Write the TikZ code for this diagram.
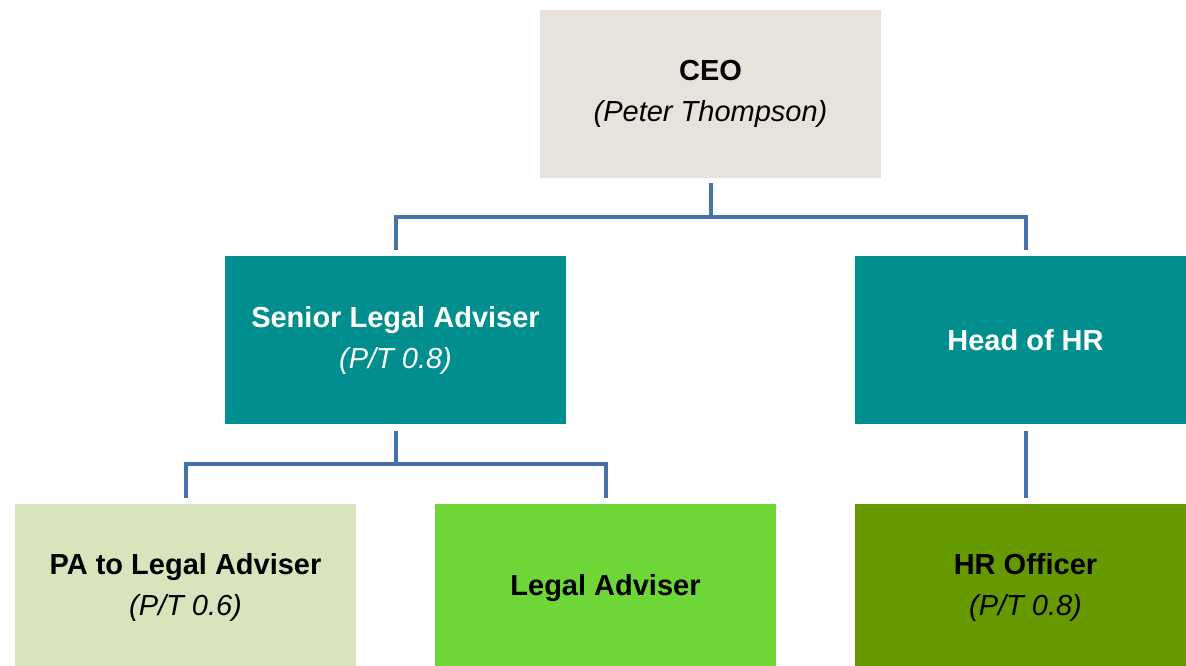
\documentclass[tikz,border=0pt]{standalone}
\usepackage{fontspec}
\setmainfont{Liberation Sans}
\usetikzlibrary{positioning}

\definecolor{ceobg}{HTML}{E7E3DC}
\definecolor{teal}{HTML}{008E8E}
\definecolor{palegreen}{HTML}{D8E4BC}
\definecolor{brightgreen}{HTML}{6FD638}
\definecolor{olive}{HTML}{669900}
\definecolor{linkblue}{HTML}{4672AA}

\tikzset{
	post/.style={minimum width=341pt, minimum height=168pt, inner sep=0pt,
		align=center, font=\fontsize{29}{41}\selectfont},
	link/.style={draw=linkblue, line width=4pt}
}

\begin{document}
\begin{tikzpicture}[x=1pt, y=1pt]
	\useasboundingbox (0,0) rectangle (1186,-665);
	\node [post, fill=ceobg] (ceo) at (710.5,-94) {\textbf{CEO}\\\textit{(Peter Thompson)}};
	\node [post, fill=teal, text=white, below=78pt of ceo, xshift=-315pt] (senior) {\textbf{Senior Legal Adviser}\\\textit{(P/T 0.8)}};
	\node [post, fill=teal, text=white, below=78pt of ceo, xshift=315pt] (headhr) {\textbf{Head of HR}};
	\node [post, fill=palegreen, below=79pt of senior, xshift=-210pt] (pa) {\textbf{PA to Legal Adviser}\\\textit{(P/T 0.6)}};
	\node [post, fill=brightgreen, below=79pt of senior, xshift=210pt] (legal) {\textbf{Legal Adviser}};
	\node [post, fill=olive, below=79pt of headhr] (hrofficer) {\textbf{HR Officer}\\\textit{(P/T 0.8)}};
	% lines
	\draw [link] ([yshift=-5pt]ceo.south) -- ([yshift=-39pt]ceo.south);
	\draw [link] ([yshift=6pt]senior.north) |- ([yshift=-39pt]ceo.south) -| ([yshift=6pt]headhr.north);
	\draw [link] ([yshift=-6pt]senior.south) -- ([yshift=-39pt]senior.south);
	\draw [link] ([yshift=6pt]pa.north) |- ([yshift=-39pt]senior.south) -| ([yshift=6pt]legal.north);
	\draw [link] ([yshift=-6pt]headhr.south) -- ([yshift=6pt]hrofficer.north);
\end{tikzpicture}
\end{document}
